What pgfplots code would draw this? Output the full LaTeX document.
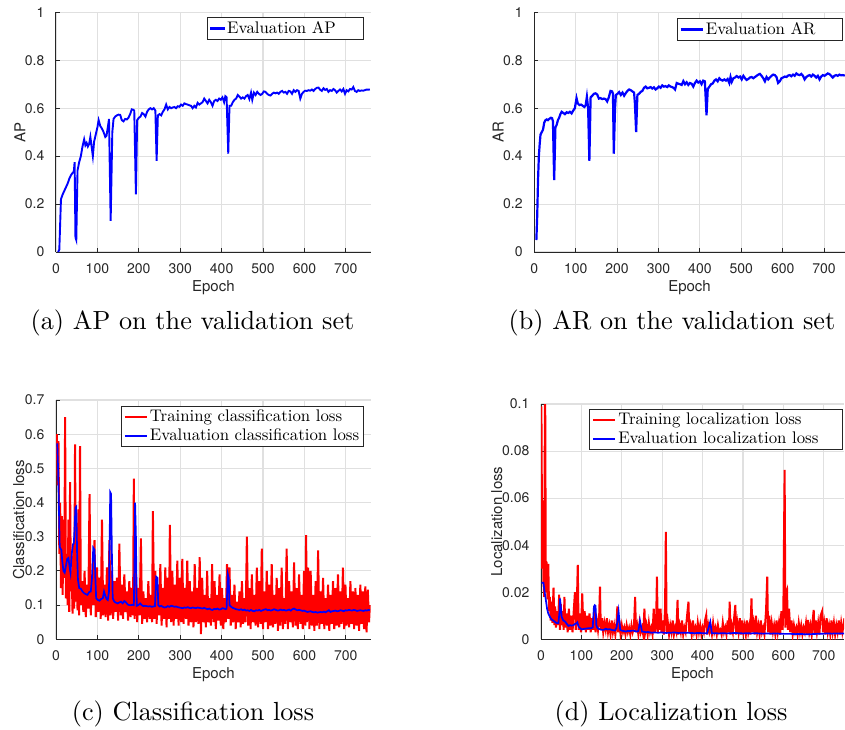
\documentclass[border=0pt]{standalone}
\usepackage{fontspec}
\setmainfont{lmroman10-regular.otf}
\newfontfamily\heros{TeX Gyre Heros}
\usepackage{pgfplots}
\usepackage{pgfplotstable}
\pgfplotsset{compat=1.18}
\definecolor{axgray}{rgb}{0.15,0.15,0.15}
\definecolor{gridgray}{rgb}{0.88,0.88,0.88}

\pgfplotstableread[row sep=\\]{x y\\
5 0\\ 8 0.01\\ 12 0.22\\ 16 0.24\\ 20 0.255\\ 24 0.27\\ 28 0.285\\ 32 0.305\\ 36 0.32\\ 40 0.33\\ 43 0.335\\ 45 0.375\\ 47 0.06\\ 49 0.05\\ 52 0.34\\ 56 0.375\\ 60 0.40\\ 64 0.44\\ 68 0.47\\ 71 0.445\\ 74 0.455\\ 77 0.44\\ 80 0.45\\ 83 0.48\\ 86 0.44\\ 89 0.40\\ 92 0.46\\ 96 0.49\\ 100 0.52\\ 103 0.55\\ 107 0.525\\ 111 0.515\\ 115 0.50\\ 119 0.48\\ 122 0.485\\ 126 0.53\\ 128 0.555\\ 132 0.13\\ 136 0.50\\ 139 0.555\\ 143 0.565\\ 147 0.57\\ 151 0.573\\ 155 0.572\\ 159 0.55\\ 163 0.545\\ 167 0.555\\ 171 0.553\\ 175 0.56\\ 179 0.575\\ 183 0.595\\ 187 0.593\\ 189 0.59\\ 193 0.24\\ 196 0.55\\ 200 0.56\\ 204 0.565\\ 208 0.58\\ 212 0.575\\ 216 0.565\\ 220 0.585\\ 224 0.595\\ 228 0.60\\ 232 0.595\\ 236 0.60\\ 240 0.59\\ 243 0.38\\ 246 0.57\\ 250 0.575\\ 254 0.57\\ 258 0.585\\ 262 0.595\\ 266 0.615\\ 270 0.595\\ 274 0.605\\ 278 0.60\\ 282 0.603\\ 286 0.605\\ 290 0.60\\ 294 0.608\\ 298 0.606\\ 302 0.615\\ 306 0.61\\ 310 0.62\\ 314 0.617\\ 318 0.615\\ 322 0.612\\ 326 0.61\\ 330 0.60\\ 334 0.61\\ 338 0.603\\ 342 0.622\\ 346 0.615\\ 350 0.62\\ 354 0.625\\ 358 0.64\\ 362 0.63\\ 366 0.62\\ 370 0.635\\ 374 0.625\\ 378 0.61\\ 382 0.63\\ 386 0.635\\ 390 0.63\\ 394 0.64\\ 398 0.635\\ 402 0.645\\ 406 0.625\\ 409 0.65\\ 412 0.645\\ 416 0.41\\ 419 0.61\\ 423 0.61\\ 427 0.625\\ 431 0.635\\ 435 0.64\\ 439 0.655\\ 443 0.648\\ 447 0.64\\ 451 0.645\\ 455 0.64\\ 459 0.65\\ 463 0.655\\ 467 0.638\\ 471 0.665\\ 474 0.635\\ 478 0.665\\ 482 0.655\\ 486 0.668\\ 490 0.66\\ 494 0.655\\ 498 0.66\\ 502 0.67\\ 506 0.668\\ 510 0.66\\ 514 0.655\\ 518 0.653\\ 522 0.66\\ 526 0.665\\ 530 0.662\\ 534 0.665\\ 538 0.66\\ 542 0.668\\ 546 0.672\\ 550 0.665\\ 554 0.668\\ 558 0.66\\ 562 0.672\\ 566 0.67\\ 570 0.66\\ 574 0.675\\ 578 0.668\\ 582 0.675\\ 586 0.672\\ 590 0.64\\ 594 0.66\\ 598 0.668\\ 602 0.673\\ 606 0.672\\ 610 0.675\\ 614 0.673\\ 618 0.678\\ 622 0.672\\ 626 0.68\\ 630 0.685\\ 634 0.686\\ 638 0.677\\ 642 0.672\\ 646 0.683\\ 650 0.676\\ 654 0.68\\ 658 0.668\\ 662 0.675\\ 666 0.672\\ 670 0.68\\ 674 0.675\\ 678 0.665\\ 682 0.672\\ 686 0.678\\ 690 0.67\\ 694 0.68\\ 698 0.66\\ 702 0.675\\ 706 0.67\\ 710 0.68\\ 714 0.678\\ 718 0.688\\ 722 0.672\\ 726 0.668\\ 730 0.675\\ 734 0.672\\ 738 0.674\\ 742 0.673\\ 746 0.675\\ 750 0.678\\ 754 0.677\\ 758 0.678\\
}\apdata

\pgfplotstableread[row sep=\\]{x y\\
5 0.05\\ 7 0.15\\ 9 0.30\\ 11 0.40\\ 13 0.45\\ 15 0.49\\ 18 0.50\\ 21 0.51\\ 24 0.54\\ 27 0.55\\ 30 0.553\\ 33 0.55\\ 36 0.555\\ 40 0.56\\ 43 0.558\\ 45 0.545\\ 48 0.30\\ 51 0.52\\ 54 0.53\\ 57 0.55\\ 60 0.56\\ 63 0.575\\ 66 0.585\\ 70 0.58\\ 74 0.575\\ 78 0.583\\ 82 0.58\\ 86 0.585\\ 90 0.578\\ 94 0.59\\ 98 0.60\\ 102 0.642\\ 105 0.62\\ 109 0.613\\ 113 0.615\\ 117 0.61\\ 121 0.605\\ 124 0.612\\ 127 0.648\\ 130 0.60\\ 133 0.38\\ 136 0.645\\ 140 0.652\\ 144 0.66\\ 148 0.662\\ 152 0.657\\ 156 0.64\\ 160 0.642\\ 164 0.638\\ 168 0.64\\ 172 0.638\\ 176 0.628\\ 180 0.645\\ 184 0.672\\ 188 0.67\\ 190 0.66\\ 192 0.41\\ 195 0.60\\ 197 0.655\\ 201 0.66\\ 205 0.667\\ 209 0.655\\ 213 0.665\\ 217 0.652\\ 221 0.663\\ 225 0.672\\ 229 0.678\\ 233 0.675\\ 237 0.67\\ 241 0.665\\ 243 0.62\\ 246 0.50\\ 249 0.655\\ 253 0.66\\ 257 0.668\\ 261 0.672\\ 265 0.685\\ 269 0.69\\ 273 0.683\\ 277 0.685\\ 281 0.688\\ 285 0.682\\ 289 0.687\\ 293 0.678\\ 297 0.683\\ 301 0.69\\ 305 0.685\\ 309 0.695\\ 313 0.69\\ 317 0.692\\ 321 0.688\\ 325 0.695\\ 329 0.69\\ 333 0.688\\ 337 0.684\\ 340 0.678\\ 344 0.705\\ 348 0.702\\ 352 0.70\\ 356 0.697\\ 360 0.713\\ 364 0.70\\ 368 0.708\\ 372 0.697\\ 376 0.705\\ 380 0.702\\ 384 0.69\\ 388 0.705\\ 392 0.715\\ 396 0.707\\ 400 0.712\\ 404 0.70\\ 408 0.715\\ 412 0.712\\ 416 0.57\\ 419 0.68\\ 423 0.69\\ 427 0.70\\ 431 0.703\\ 435 0.715\\ 439 0.72\\ 443 0.712\\ 447 0.725\\ 451 0.718\\ 455 0.715\\ 459 0.72\\ 463 0.715\\ 467 0.722\\ 471 0.705\\ 474 0.73\\ 477 0.71\\ 481 0.725\\ 485 0.728\\ 489 0.734\\ 493 0.728\\ 497 0.732\\ 501 0.72\\ 505 0.735\\ 509 0.725\\ 513 0.718\\ 517 0.722\\ 521 0.728\\ 525 0.73\\ 529 0.725\\ 533 0.73\\ 537 0.735\\ 541 0.74\\ 545 0.743\\ 549 0.735\\ 553 0.725\\ 557 0.712\\ 561 0.73\\ 565 0.72\\ 569 0.728\\ 573 0.735\\ 577 0.74\\ 581 0.738\\ 585 0.73\\ 589 0.705\\ 593 0.712\\ 597 0.725\\ 601 0.728\\ 605 0.732\\ 609 0.73\\ 613 0.736\\ 617 0.738\\ 621 0.733\\ 625 0.74\\ 629 0.735\\ 633 0.745\\ 637 0.74\\ 641 0.738\\ 645 0.743\\ 649 0.735\\ 653 0.72\\ 657 0.73\\ 661 0.735\\ 665 0.738\\ 669 0.732\\ 673 0.74\\ 677 0.735\\ 681 0.728\\ 685 0.735\\ 689 0.72\\ 693 0.732\\ 697 0.738\\ 701 0.735\\ 705 0.74\\ 709 0.745\\ 713 0.742\\ 717 0.735\\ 721 0.728\\ 725 0.735\\ 729 0.738\\ 733 0.735\\ 737 0.74\\ 741 0.737\\ 745 0.738\\ 750 0.736\\
}\ardata

\pgfplotstableread[row sep=\\]{x y\\
2 0.60\\ 4 0.45\\ 6 0.58\\ 8 0.25\\ 10 0.40\\ 12 0.15\\ 14 0.36\\ 16 0.13\\ 18 0.35\\ 20 0.18\\ 22 0.65\\ 24 0.12\\ 26 0.25\\ 28 0.10\\ 30 0.35\\ 32 0.08\\ 34 0.46\\ 36 0.14\\ 38 0.19\\ 40 0.075\\ 42 0.28\\ 44 0.09\\ 46 0.57\\ 48 0.11\\ 50 0.22\\ 52 0.085\\ 54 0.38\\ 56 0.07\\ 58 0.565\\ 60 0.10\\ 63 0.17\\ 66 0.08\\ 69 0.20\\ 72 0.065\\ 75 0.16\\ 78 0.09\\ 81 0.425\\ 84 0.07\\ 87 0.19\\ 90 0.10\\ 93 0.29\\ 96 0.065\\ 99 0.21\\ 102 0.08\\ 105 0.18\\ 108 0.06\\ 111 0.35\\ 114 0.07\\ 117 0.16\\ 120 0.065\\ 123 0.21\\ 126 0.055\\ 129 0.29\\ 132 0.07\\ 135 0.20\\ 138 0.06\\ 141 0.17\\ 144 0.08\\ 147 0.18\\ 150 0.055\\ 153 0.28\\ 156 0.07\\ 159 0.16\\ 162 0.06\\ 165 0.19\\ 168 0.08\\ 171 0.14\\ 174 0.055\\ 177 0.17\\ 180 0.065\\ 183 0.15\\ 186 0.07\\ 188 0.47\\ 190 0.06\\ 193 0.20\\ 196 0.05\\ 199 0.15\\ 202 0.07\\ 205 0.295\\ 208 0.045\\ 211 0.14\\ 214 0.06\\ 217 0.12\\ 220 0.05\\ 223 0.17\\ 226 0.06\\ 229 0.13\\ 232 0.05\\ 234 0.375\\ 237 0.06\\ 240 0.20\\ 243 0.045\\ 246 0.16\\ 249 0.07\\ 252 0.22\\ 255 0.04\\ 258 0.15\\ 261 0.06\\ 264 0.21\\ 267 0.035\\ 270 0.18\\ 273 0.06\\ 275 0.335\\ 278 0.05\\ 281 0.20\\ 284 0.04\\ 287 0.16\\ 290 0.06\\ 293 0.23\\ 296 0.04\\ 299 0.18\\ 302 0.05\\ 305 0.235\\ 308 0.045\\ 311 0.15\\ 314 0.06\\ 317 0.23\\ 320 0.04\\ 323 0.17\\ 326 0.05\\ 329 0.14\\ 332 0.035\\ 335 0.22\\ 338 0.05\\ 341 0.15\\ 344 0.045\\ 347 0.24\\ 350 0.015\\ 353 0.18\\ 356 0.05\\ 359 0.13\\ 362 0.035\\ 365 0.20\\ 368 0.05\\ 371 0.12\\ 374 0.04\\ 377 0.22\\ 380 0.05\\ 383 0.17\\ 386 0.03\\ 389 0.13\\ 392 0.055\\ 395 0.19\\ 398 0.04\\ 401 0.15\\ 404 0.03\\ 407 0.12\\ 410 0.05\\ 413 0.22\\ 416 0.06\\ 419 0.21\\ 422 0.04\\ 425 0.13\\ 428 0.05\\ 431 0.16\\ 434 0.03\\ 437 0.11\\ 440 0.05\\ 443 0.14\\ 446 0.035\\ 449 0.17\\ 452 0.045\\ 455 0.12\\ 458 0.05\\ 461 0.30\\ 464 0.04\\ 467 0.15\\ 470 0.03\\ 473 0.19\\ 476 0.05\\ 479 0.13\\ 482 0.04\\ 485 0.21\\ 488 0.035\\ 491 0.17\\ 494 0.045\\ 497 0.265\\ 500 0.03\\ 503 0.14\\ 506 0.05\\ 509 0.20\\ 512 0.03\\ 515 0.16\\ 518 0.04\\ 521 0.22\\ 524 0.035\\ 527 0.13\\ 530 0.045\\ 533 0.18\\ 536 0.025\\ 539 0.15\\ 542 0.04\\ 545 0.21\\ 548 0.03\\ 551 0.12\\ 554 0.045\\ 557 0.265\\ 560 0.03\\ 563 0.17\\ 566 0.05\\ 569 0.14\\ 572 0.035\\ 575 0.225\\ 578 0.04\\ 581 0.15\\ 584 0.03\\ 587 0.19\\ 590 0.045\\ 593 0.13\\ 596 0.03\\ 599 0.20\\ 602 0.04\\ 604 0.305\\ 606 0.05\\ 609 0.21\\ 612 0.03\\ 615 0.20\\ 618 0.04\\ 621 0.13\\ 624 0.025\\ 627 0.17\\ 630 0.04\\ 633 0.26\\ 636 0.03\\ 639 0.14\\ 642 0.045\\ 645 0.18\\ 648 0.03\\ 651 0.12\\ 654 0.04\\ 657 0.16\\ 660 0.025\\ 663 0.13\\ 666 0.045\\ 669 0.17\\ 672 0.03\\ 675 0.15\\ 678 0.04\\ 681 0.19\\ 684 0.035\\ 687 0.14\\ 690 0.045\\ 693 0.21\\ 696 0.03\\ 699 0.16\\ 702 0.04\\ 705 0.12\\ 708 0.035\\ 711 0.17\\ 714 0.045\\ 717 0.14\\ 720 0.03\\ 723 0.15\\ 726 0.04\\ 729 0.13\\ 732 0.025\\ 735 0.16\\ 738 0.045\\ 741 0.14\\ 744 0.03\\ 747 0.155\\ 750 0.02\\ 753 0.145\\ 756 0.05\\ 758 0.10\\
}\clstrain

\pgfplotstableread[row sep=\\]{x y\\
3 0.573\\ 5 0.50\\ 7 0.39\\ 9 0.27\\ 11 0.265\\ 13 0.262\\ 15 0.23\\ 18 0.20\\ 21 0.195\\ 24 0.215\\ 27 0.235\\ 30 0.238\\ 33 0.21\\ 35 0.195\\ 38 0.25\\ 41 0.278\\ 43 0.28\\ 45 0.33\\ 47 0.385\\ 49 0.388\\ 51 0.25\\ 53 0.175\\ 56 0.15\\ 60 0.148\\ 64 0.14\\ 68 0.135\\ 72 0.132\\ 76 0.13\\ 80 0.138\\ 84 0.14\\ 87 0.18\\ 90 0.268\\ 93 0.262\\ 95 0.18\\ 97 0.12\\ 101 0.115\\ 105 0.113\\ 109 0.118\\ 113 0.12\\ 116 0.14\\ 119 0.128\\ 122 0.118\\ 125 0.115\\ 128 0.14\\ 131 0.43\\ 133 0.425\\ 135 0.25\\ 137 0.12\\ 141 0.11\\ 145 0.107\\ 149 0.105\\ 153 0.108\\ 157 0.11\\ 161 0.105\\ 165 0.112\\ 169 0.108\\ 173 0.102\\ 177 0.10\\ 181 0.10\\ 185 0.101\\ 188 0.10\\ 190 0.25\\ 191 0.40\\ 193 0.30\\ 195 0.098\\ 199 0.10\\ 203 0.105\\ 207 0.10\\ 211 0.097\\ 215 0.098\\ 219 0.097\\ 223 0.096\\ 227 0.097\\ 231 0.095\\ 235 0.096\\ 239 0.097\\ 242 0.183\\ 245 0.18\\ 247 0.10\\ 250 0.096\\ 254 0.098\\ 258 0.095\\ 262 0.093\\ 266 0.094\\ 270 0.097\\ 274 0.095\\ 278 0.098\\ 282 0.097\\ 286 0.095\\ 290 0.096\\ 294 0.094\\ 298 0.093\\ 302 0.092\\ 306 0.091\\ 310 0.093\\ 314 0.092\\ 318 0.094\\ 322 0.092\\ 326 0.091\\ 330 0.093\\ 334 0.092\\ 338 0.091\\ 342 0.093\\ 346 0.092\\ 350 0.091\\ 354 0.09\\ 358 0.092\\ 362 0.09\\ 366 0.088\\ 370 0.09\\ 374 0.087\\ 378 0.086\\ 382 0.089\\ 386 0.088\\ 390 0.09\\ 394 0.087\\ 398 0.088\\ 402 0.091\\ 406 0.09\\ 410 0.088\\ 412 0.09\\ 415 0.19\\ 417 0.18\\ 419 0.10\\ 423 0.095\\ 427 0.092\\ 431 0.09\\ 435 0.088\\ 439 0.087\\ 443 0.086\\ 447 0.088\\ 451 0.085\\ 455 0.087\\ 459 0.084\\ 463 0.085\\ 467 0.083\\ 471 0.086\\ 475 0.083\\ 479 0.082\\ 483 0.085\\ 487 0.084\\ 491 0.086\\ 495 0.083\\ 499 0.085\\ 503 0.087\\ 507 0.088\\ 511 0.085\\ 515 0.086\\ 519 0.084\\ 523 0.086\\ 527 0.088\\ 531 0.086\\ 535 0.084\\ 539 0.085\\ 543 0.087\\ 547 0.085\\ 551 0.086\\ 555 0.084\\ 559 0.085\\ 563 0.087\\ 567 0.084\\ 571 0.088\\ 575 0.09\\ 579 0.087\\ 583 0.085\\ 587 0.086\\ 591 0.085\\ 595 0.083\\ 599 0.084\\ 603 0.082\\ 607 0.08\\ 611 0.081\\ 615 0.082\\ 619 0.08\\ 623 0.079\\ 627 0.08\\ 631 0.078\\ 635 0.079\\ 639 0.08\\ 643 0.079\\ 647 0.081\\ 651 0.079\\ 655 0.082\\ 659 0.085\\ 663 0.08\\ 667 0.082\\ 671 0.083\\ 675 0.084\\ 679 0.082\\ 683 0.083\\ 687 0.085\\ 691 0.084\\ 695 0.082\\ 699 0.085\\ 703 0.084\\ 707 0.086\\ 711 0.085\\ 715 0.084\\ 719 0.086\\ 723 0.085\\ 727 0.083\\ 731 0.084\\ 735 0.085\\ 739 0.084\\ 743 0.083\\ 747 0.085\\ 751 0.084\\ 755 0.086\\ 758 0.085\\
}\clseval

\pgfplotstableread[row sep=\\]{x y\\
1 0.099\\ 3 0.03\\ 4 0.059\\ 6 0.025\\ 8 0.018\\ 10 0.12\\ 12 0.02\\ 14 0.033\\ 16 0.017\\ 18 0.032\\ 20 0.012\\ 22 0.018\\ 24 0.008\\ 26 0.016\\ 28 0.007\\ 31 0.022\\ 33 0.006\\ 35 0.014\\ 37 0.005\\ 40 0.012\\ 42 0.006\\ 45 0.019\\ 47 0.004\\ 49 0.015\\ 51 0.006\\ 54 0.012\\ 56 0.004\\ 58 0.018\\ 60 0.005\\ 63 0.011\\ 66 0.003\\ 69 0.013\\ 72 0.004\\ 75 0.010\\ 78 0.003\\ 81 0.012\\ 84 0.02\\ 86 0.004\\ 88 0.010\\ 91 0.0316\\ 93 0.004\\ 96 0.011\\ 99 0.003\\ 102 0.0195\\ 105 0.004\\ 108 0.012\\ 111 0.003\\ 114 0.010\\ 117 0.004\\ 120 0.011\\ 123 0.003\\ 126 0.009\\ 129 0.004\\ 132 0.012\\ 135 0.003\\ 138 0.008\\ 141 0.004\\ 144 0.01\\ 146 0.0224\\ 148 0.004\\ 151 0.009\\ 154 0.003\\ 157 0.007\\ 160 0.004\\ 163 0.009\\ 166 0.003\\ 169 0.006\\ 172 0.002\\ 175 0.008\\ 178 0.003\\ 181 0.006\\ 184 0.002\\ 187 0.007\\ 189 0.014\\ 191 0.003\\ 194 0.008\\ 197 0.002\\ 200 0.006\\ 203 0.003\\ 206 0.005\\ 209 0.002\\ 212 0.006\\ 215 0.003\\ 218 0.005\\ 221 0.002\\ 224 0.006\\ 227 0.003\\ 230 0.005\\ 233 0.018\\ 235 0.003\\ 238 0.006\\ 241 0.002\\ 244 0.007\\ 247 0.003\\ 250 0.005\\ 253 0.002\\ 256 0.013\\ 258 0.003\\ 261 0.006\\ 264 0.002\\ 267 0.007\\ 270 0.003\\ 273 0.005\\ 276 0.002\\ 279 0.013\\ 282 0.003\\ 285 0.008\\ 287 0.0266\\ 289 0.003\\ 291 0.013\\ 293 0.004\\ 296 0.013\\ 298 0.003\\ 301 0.008\\ 304 0.002\\ 307 0.013\\ 309 0.0457\\ 311 0.003\\ 314 0.007\\ 317 0.002\\ 320 0.006\\ 323 0.003\\ 326 0.008\\ 329 0.002\\ 332 0.005\\ 335 0.003\\ 338 0.0167\\ 340 0.002\\ 343 0.006\\ 346 0.003\\ 349 0.008\\ 352 0.002\\ 355 0.005\\ 358 0.003\\ 361 0.009\\ 365 0.016\\ 367 0.003\\ 370 0.006\\ 373 0.002\\ 376 0.008\\ 379 0.003\\ 382 0.005\\ 385 0.002\\ 388 0.007\\ 391 0.003\\ 394 0.006\\ 397 0.002\\ 400 0.005\\ 403 0.003\\ 406 0.008\\ 409 0.0103\\ 411 0.002\\ 414 0.006\\ 417 0.003\\ 420 0.005\\ 423 0.002\\ 426 0.007\\ 429 0.003\\ 432 0.005\\ 435 0.002\\ 438 0.006\\ 441 0.003\\ 444 0.004\\ 447 0.002\\ 450 0.007\\ 453 0.003\\ 456 0.005\\ 459 0.002\\ 462 0.008\\ 465 0.003\\ 467 0.016\\ 469 0.002\\ 472 0.006\\ 475 0.003\\ 478 0.009\\ 481 0.0146\\ 483 0.002\\ 486 0.007\\ 489 0.003\\ 492 0.009\\ 495 0.002\\ 498 0.008\\ 501 0.003\\ 504 0.006\\ 507 0.002\\ 510 0.008\\ 513 0.003\\ 516 0.006\\ 518 0.002\\ 521 0.0174\\ 523 0.003\\ 526 0.007\\ 529 0.002\\ 532 0.010\\ 535 0.003\\ 538 0.006\\ 541 0.002\\ 544 0.008\\ 547 0.003\\ 550 0.005\\ 553 0.002\\ 557 0.012\\ 560 0.0266\\ 562 0.003\\ 565 0.01\\ 568 0.002\\ 571 0.007\\ 574 0.003\\ 577 0.006\\ 580 0.002\\ 583 0.008\\ 586 0.003\\ 589 0.007\\ 592 0.002\\ 595 0.012\\ 598 0.004\\ 600 0.014\\ 603 0.072\\ 605 0.005\\ 607 0.020\\ 609 0.021\\ 611 0.004\\ 614 0.013\\ 617 0.003\\ 620 0.008\\ 623 0.002\\ 626 0.006\\ 629 0.003\\ 632 0.005\\ 635 0.002\\ 638 0.007\\ 641 0.003\\ 644 0.006\\ 647 0.002\\ 650 0.005\\ 653 0.003\\ 656 0.007\\ 659 0.002\\ 661 0.0082\\ 664 0.003\\ 667 0.006\\ 670 0.002\\ 673 0.009\\ 675 0.0125\\ 677 0.002\\ 680 0.008\\ 683 0.003\\ 686 0.007\\ 689 0.002\\ 692 0.010\\ 696 0.012\\ 698 0.003\\ 701 0.007\\ 704 0.002\\ 707 0.009\\ 710 0.003\\ 713 0.006\\ 716 0.002\\ 719 0.008\\ 722 0.003\\ 725 0.007\\ 728 0.002\\ 731 0.006\\ 734 0.003\\ 737 0.008\\ 740 0.002\\ 743 0.007\\ 746 0.003\\ 749 0.006\\ 751 0.009\\
}\loctrain

\pgfplotstableread[row sep=\\]{x y\\
1 0.024\\ 6 0.024\\ 9 0.02\\ 12 0.0167\\ 15 0.013\\ 18 0.011\\ 22 0.0095\\ 26 0.0085\\ 30 0.008\\ 34 0.0075\\ 39 0.0068\\ 43 0.0068\\ 46 0.012\\ 47 0.0174\\ 49 0.014\\ 51 0.0096\\ 55 0.008\\ 60 0.0075\\ 64 0.0065\\ 68 0.0057\\ 72 0.006\\ 76 0.0058\\ 80 0.006\\ 84 0.0065\\ 88 0.0068\\ 90 0.0072\\ 93 0.0054\\ 97 0.0047\\ 101 0.0042\\ 105 0.0044\\ 109 0.0045\\ 113 0.0046\\ 117 0.0047\\ 121 0.0047\\ 125 0.0048\\ 128 0.005\\ 131 0.0139\\ 133 0.0145\\ 135 0.0142\\ 137 0.006\\ 140 0.0047\\ 145 0.0043\\ 150 0.004\\ 155 0.004\\ 160 0.0045\\ 165 0.0042\\ 170 0.0043\\ 175 0.004\\ 180 0.0038\\ 183 0.0037\\ 187 0.005\\ 190 0.009\\ 192 0.0118\\ 194 0.008\\ 196 0.004\\ 200 0.0037\\ 205 0.0035\\ 210 0.0033\\ 215 0.0036\\ 220 0.0035\\ 225 0.0037\\ 229 0.0037\\ 234 0.0034\\ 238 0.0033\\ 241 0.0035\\ 243 0.0055\\ 245 0.0079\\ 247 0.006\\ 250 0.0033\\ 255 0.0032\\ 260 0.003\\ 265 0.0031\\ 270 0.0029\\ 275 0.0028\\ 280 0.0029\\ 290 0.0028\\ 300 0.0029\\ 310 0.0027\\ 320 0.0028\\ 330 0.0029\\ 340 0.0027\\ 350 0.0028\\ 360 0.0028\\ 370 0.0027\\ 380 0.0026\\ 390 0.0027\\ 400 0.0026\\ 411 0.0025\\ 415 0.005\\ 419 0.0075\\ 421 0.005\\ 423 0.0025\\ 430 0.0026\\ 440 0.0025\\ 450 0.0026\\ 460 0.0025\\ 470 0.0026\\ 480 0.0027\\ 490 0.0026\\ 500 0.0025\\ 510 0.0026\\ 520 0.0025\\ 530 0.0026\\ 540 0.0025\\ 550 0.0024\\ 560 0.0025\\ 570 0.0024\\ 580 0.0025\\ 590 0.0024\\ 600 0.0023\\ 610 0.0023\\ 620 0.0023\\ 630 0.0022\\ 640 0.0023\\ 650 0.0022\\ 660 0.0021\\ 670 0.0022\\ 680 0.0023\\ 690 0.0024\\ 700 0.0024\\ 710 0.0025\\ 720 0.0024\\ 730 0.0025\\ 740 0.0025\\ 750 0.0025\\
}\loceval

\pgfplotsset{
  mstyle/.style={
    scale only axis,
    axis x line*=bottom, axis y line*=left,
    axis line style={-, draw=axgray, line width=0.5pt},
    tick align=inside, major tick length=2pt,
    tick style={draw=axgray, line width=0.5pt},
    grid=major, grid style={draw=gridgray, line width=0.55pt},
    /pgf/number format/assume math mode=true,
    ticklabel style={font=\heros\fontsize{7}{8}\selectfont, text=axgray},
    xticklabel style={yshift=-2.3pt},
    yticklabel style={xshift=-2.3pt},
    xlabel={Epoch},
    every axis x label/.style={at={(axis description cs:0.5,0)}, anchor=base, yshift=-19.5pt, font=\heros\fontsize{7.5}{9}\selectfont, text=axgray},
    xmin=0,
    xtick={0,100,200,300,400,500,600,700},
    xticklabels={0,100,200,300,400,500,600,700},
    legend cell align=left,
    legend image post style={xscale=0.65},
    legend style={font=\fontsize{8.4}{10}\selectfont, draw=axgray, line width=0.5pt,
      inner xsep=1.2pt, inner ysep=0.6pt, row sep=0pt,
      nodes={inner sep=1pt},
      at={(axis description cs:1,1)}, anchor=north east},
  },
  ylab/.style={every axis y label/.style={at={(axis description cs:0,0.5)}, xshift=#1, rotate=90, anchor=base, font=\heros\fontsize{7.5}{9}\selectfont, text=axgray}},
}

\begin{document}
\begin{tikzpicture}
\useasboundingbox (0,0) rectangle (422.5pt,364.5pt);

% (a)
\begin{axis}[mstyle, at={(28pt,238.5pt)}, anchor=south west,
  width=157.35pt, height=119.85pt, xmax=760, ymin=0, ymax=1,
  ytick={0,0.2,0.4,0.6,0.8,1}, yticklabels={0,0.2,0.4,0.6,0.8,1},
  ylabel={AP}, ylab=-15.3pt,
  legend style={xshift=-3.3pt, yshift=-2.6pt}]
\addlegendimage{legend image code/.code={\fill[blue] (0pt,-0.5pt) rectangle (11pt,0.5pt);}}
\addlegendentry{\makebox[66pt][l]{Evaluation AP}}
\addplot[color=blue, line width=0.95pt, forget plot] table[x=x,y=y] {\apdata};
\end{axis}

% (b)
\begin{axis}[mstyle, at={(267.15pt,238.5pt)}, anchor=south west,
  width=155.25pt, height=119.85pt, xmax=750, ymin=0, ymax=1,
  ytick={0,0.2,0.4,0.6,0.8,1}, yticklabels={0,0.2,0.4,0.6,0.8,1},
  ylabel={AR}, ylab=-15.3pt,
  legend style={xshift=-1pt, yshift=-3pt}]
\addplot[color=blue, line width=1.1pt] table[x=x,y=y] {\ardata};
\addlegendentry{\makebox[66pt][l]{Evaluation AR}}
\end{axis}

% (c)
\begin{axis}[mstyle, at={(28pt,44.85pt)}, anchor=south west,
  width=157.35pt, height=119.65pt, xmax=760, ymin=0, ymax=0.7,
  ytick={0,0.1,0.2,0.3,0.4,0.5,0.6,0.7}, yticklabels={0,0.1,0.2,0.3,0.4,0.5,0.6,0.7},
  ylabel={Classification loss}, ylab=-15.9pt,
  legend style={xshift=-3.3pt, yshift=-3pt}]
\addplot[color=red, line width=1pt] table[x=x,y=y] {\clstrain};
\addlegendentry{Training classification loss}
\addplot[color=blue, line width=0.85pt] table[x=x,y=y] {\clseval};
\addlegendentry{Evaluation classification loss}
\end{axis}

% (d)
\begin{axis}[mstyle, at={(270.5pt,44.85pt)}, anchor=south west,
  width=151.5pt, height=117.65pt, xmax=750, ymin=0, ymax=0.1,
  ytick={0,0.02,0.04,0.06,0.08,0.1}, yticklabels={0,0.02,0.04,0.06,0.08,0.1},
  ylabel={Localization loss}, ylab=-19.5pt,
  legend style={xshift=-0.4pt, yshift=-2.6pt}]
\addplot[color=red, line width=1pt] table[x=x,y=y] {\loctrain};
\addlegendentry{Training localization loss}
\addplot[color=blue, line width=0.85pt] table[x=x,y=y] {\loceval};
\addlegendentry{\makebox[110pt][l]{Evaluation localization loss}}
\end{axis}

\node[anchor=base, font=\fontsize{13.1}{15.5}\selectfont] at (96.25pt,200pt) {(a) AP on the validation set};
\node[anchor=base, font=\fontsize{13.1}{15.5}\selectfont] at (336pt,200pt) {(b) AR on the validation set};
\node[anchor=base, font=\fontsize{13.1}{15.5}\selectfont] at (96.5pt,4.5pt) {(c) Classification loss};
\node[anchor=base, font=\fontsize{13.1}{15.5}\selectfont] at (335.5pt,4.5pt) {(d) Localization loss};
\end{tikzpicture}
\end{document}
